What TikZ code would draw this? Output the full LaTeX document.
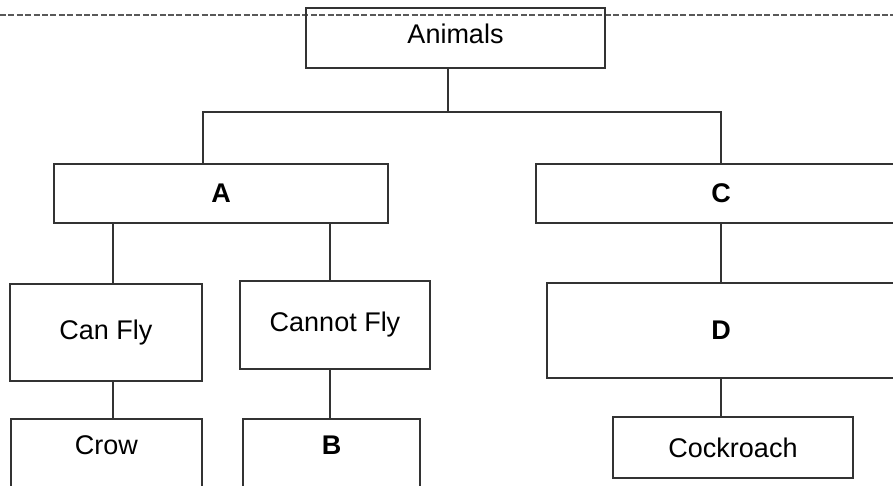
\documentclass[tikz,border=0pt]{standalone}
\usepackage{fontspec}
\setmainfont{Liberation Sans}
\begin{document}
\begin{tikzpicture}[x=0.5pt, y=-0.5pt,
		box/.style={draw=black!80, line width=0.9pt, rectangle, inner sep=0pt,
		  font=\fontsize{13.5}{16}\selectfont},
		cut box/.style={box, anchor=north, text height=18pt, text depth=30pt},
		link/.style={draw=black!80, line width=0.9pt}]
			\useasboundingbox (0,0) rectangle (893,486);
			\clip (0,0) rectangle (893,486);
			\draw[black!65, line width=0.6pt, dash pattern=on 3pt off 1.2pt] (0,15) -- (893,15);
			% boxes
			\node[box, minimum width=149.5pt, minimum height=30pt, text depth=4pt] (animals) at (455.5,38) {Animals};
			\node[box, minimum width=167pt, minimum height=29.5pt] (A) at (221,193.5) {\bfseries A};
			\node[box, minimum width=185pt, minimum height=29.5pt] (C) at (721,193.5) {\bfseries C};
			\node[box, minimum width=96pt, minimum height=48.5pt] (canfly) at (106,332.5) {Can Fly};
			\node[box, minimum width=95pt, minimum height=44pt] (cannotfly) at (335,325) {Cannot Fly};
			\node[box, minimum width=174pt, minimum height=47.5pt] (D) at (721,330.5) {\bfseries D};
			\node[cut box, minimum width=95.5pt] (crow) at (106.5,418) {Crow};
			\node[cut box, minimum width=88.5pt] (B) at (331.5,418) {\bfseries B};
			\node[box, minimum width=120pt, minimum height=30.5pt] (cockroach) at (733,447.5) {Cockroach};
			% connectors
			\coordinate (top) at (448,112);
			\coordinate (left) at (203,112);
			\coordinate (right) at (721,112);
			\coordinate (flyx) at (113,0);
			\coordinate (noflyx) at (330,0);
			\coordinate (cx) at (721,0);
			\draw[link] (animals.south -| top) -- (top);
			\draw[link] (A.north -| left) -- (left) -- (right) -- (C.north -| right);
			\foreach \u/\v/\x in {A/canfly/flyx, canfly/crow/flyx, A/cannotfly/noflyx,
			  cannotfly/B/noflyx, C/D/cx, D/cockroach/cx}{
			    \draw[link] (\u.south -| \x) -- (\v.north -| \x);
			}
		\end{tikzpicture}
\end{document}
